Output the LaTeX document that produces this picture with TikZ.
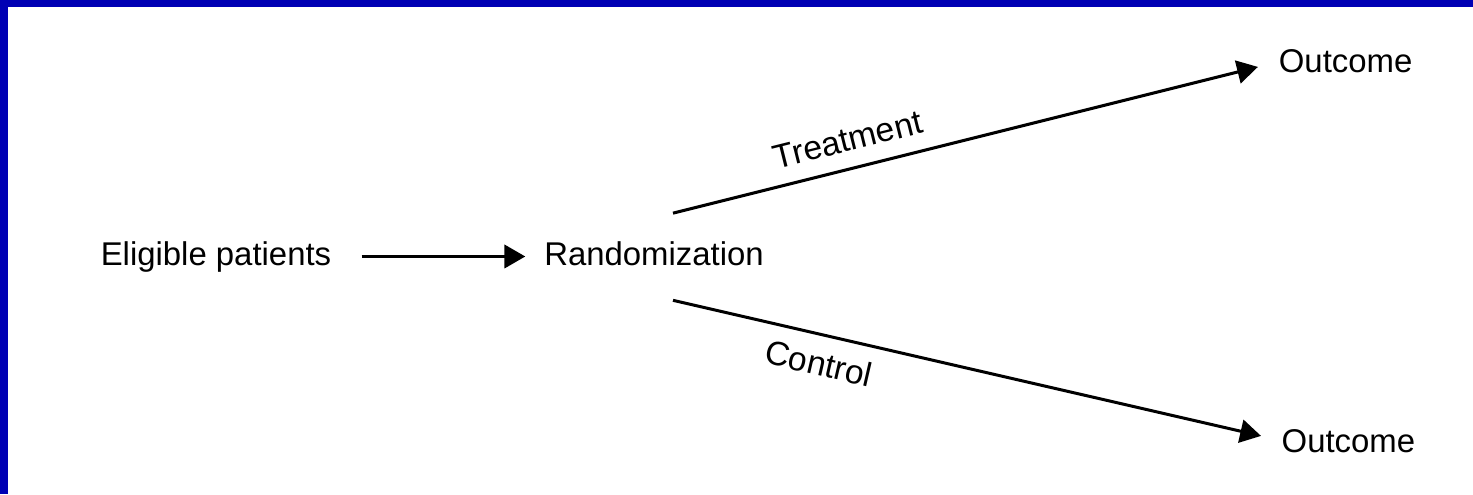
\documentclass[tikz,border=0pt]{standalone}
\usepackage{fontspec}
\setmainfont{Liberation Sans}
\usetikzlibrary{arrows.meta}
\definecolor{c0000b4}{RGB}{0,0,180}

\begin{document}
\begin{tikzpicture}[y=1mm, x=1mm, inner sep=0pt, outer sep=0pt,
  every node/.append style={font=\fontsize{23.4}{28}\selectfont},
  arrowline/.style={draw=black, line width=0.75mm, line cap=butt,
    -{Triangle[length=5.2mm,width=5.8mm]}},
  branchlabel/.style={sloped, font=\fontsize{24}{28}\selectfont}]
  \path[fill=white] (0.0, 0.0) rectangle (368.25, 123.5);



  \path[fill=c0000b4] (0.0, 121.75) rectangle (368.25, 123.5);



  \path[fill=c0000b4] (0.0, 0.0) rectangle (2.0, 123.5);



  \node[anchor=base] (eligible) at (54.0, 57.25){Eligible patients};



  \node[anchor=base] (randomization) at (163.5, 57.25){Randomization};



  \node[anchor=base] (outcometop) at (336.4, 105.25){Outcome};



  \node[anchor=base] (outcomebottom) at (337.1, 10.5){Outcome};



  \coordinate (treatstart) at ([xshift=4.75mm, yshift=7mm]randomization.north);
  \coordinate (controlstart) at ([xshift=4.75mm, yshift=-8.75mm]randomization.south);



  \path[arrowline, shorten <=7.6mm, shorten >=4.75mm] (eligible.east) --
  (eligible.east -| randomization.west);



  \path[arrowline, shorten >=5.4mm] (treatstart) -- (outcometop.west)
  node[branchlabel, pos=0.3, anchor=south, inner sep=4.3mm] (treatment){Treatment};



  \path[arrowline, shorten >=5.3mm] (controlstart) -- (outcomebottom.west)
  node[branchlabel, pos=0.25, anchor=north, inner sep=4mm] (control){Control};




\end{tikzpicture}
\end{document}
